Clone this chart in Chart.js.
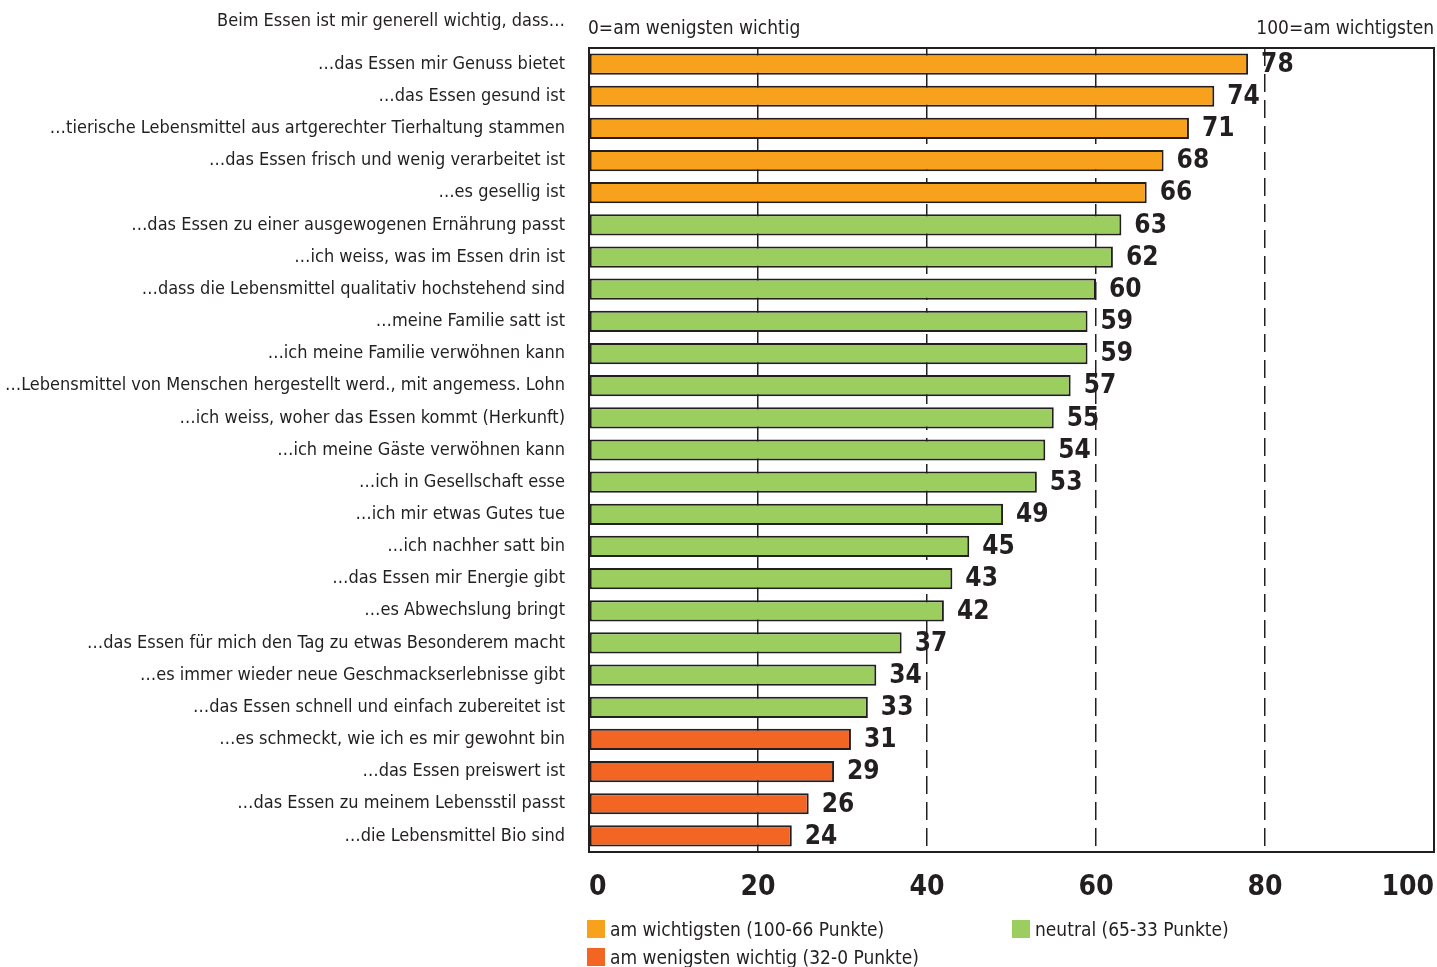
<!DOCTYPE html>
<html lang="de">
<head>
<meta charset="utf-8">
<title>Beim Essen ist mir generell wichtig</title>
<script src="https://cdn.jsdelivr.net/npm/chart.js@4"></script>
<style>
  html, body { margin: 0; padding: 0; background: #fff; }
  body { font-family: 'Liberation Sans Narrow', 'Arial Narrow', 'DejaVu Sans Condensed', sans-serif; color: #231f20; }
  .wrap { position: relative; width: 1437px; height: 967px; overflow: hidden; }
  canvas { position: absolute; left: 0; top: 0; }
  .txt { position: absolute; white-space: nowrap; line-height: 1; }
  .legend-item { position: absolute; display: flex; align-items: center; font-size: 19px; white-space: nowrap; }
  .legend-item span.sw { display: inline-block; width: 18px; height: 18px; margin-right: 5px; }
</style>
</head>
<body>
<div class="wrap">
  <canvas id="barChart" width="1437" height="967"></canvas>
  <div class="txt" id="question" style="right:872px; top:11px; font-size:18px;">Beim Essen ist mir generell wichtig, dass…</div>
  <div class="txt" style="left:588px; top:18px; font-size:19px;">0=am wenigsten wichtig</div>
  <div class="txt" style="right:3px; top:18px; font-size:19px;">100=am wichtigsten</div>
  <div id="legend"></div>
</div>
<script>
const categories = [
  '…das Essen mir Genuss bietet',
  '…das Essen gesund ist',
  '…tierische Lebensmittel aus artgerechter Tierhaltung stammen',
  '…das Essen frisch und wenig verarbeitet ist',
  '…es gesellig ist',
  '…das Essen zu einer ausgewogenen Ernährung passt',
  '…ich weiss, was im Essen drin ist',
  '…dass die Lebensmittel qualitativ hochstehend sind',
  '…meine Familie satt ist',
  '…ich meine Familie verwöhnen kann',
  '…Lebensmittel von Menschen hergestellt werd., mit angemess. Lohn',
  '…ich weiss, woher das Essen kommt (Herkunft)',
  '…ich meine Gäste verwöhnen kann',
  '…ich in Gesellschaft esse',
  '…ich mir etwas Gutes tue',
  '…ich nachher satt bin',
  '…das Essen mir Energie gibt',
  '…es Abwechslung bringt',
  '…das Essen für mich den Tag zu etwas Besonderem macht',
  '…es immer wieder neue Geschmackserlebnisse gibt',
  '…das Essen schnell und einfach zubereitet ist',
  '…es schmeckt, wie ich es mir gewohnt bin',
  '…das Essen preiswert ist',
  '…das Essen zu meinem Lebensstil passt',
  '…die Lebensmittel Bio sind'
];
const scores = [78, 74, 71, 68, 66, 63, 62, 60, 59, 59, 57, 55, 54, 53, 49, 45, 43, 42, 37, 34, 33, 31, 29, 26, 24];
const xTicks = [0, 20, 40, 60, 80, 100];
const groupLabels = ['am wichtigsten (100-66 Punkte)', 'neutral (65-33 Punkte)', 'am wenigsten wichtig (32-0 Punkte)'];
const groupMin = [66, 33, 0];
const groupColors = ['#f7a11c', '#9bcd5f', '#f26522'];

const ink = '#231f20';
const fontFamily = "'Liberation Sans Narrow', 'Arial Narrow', 'DejaVu Sans Condensed', sans-serif";

function groupOf(v) {
  for (let g = 0; g < groupMin.length; g++) {
    if (v >= groupMin[g]) return g;
  }
  return groupMin.length - 1;
}

// legend (html, laid out like the original)
const legendPos = [[587, 919], [1012, 919], [587, 947]];
const legend = document.getElementById('legend');
groupLabels.forEach((label, g) => {
  const item = document.createElement('div');
  item.className = 'legend-item';
  item.style.left = legendPos[g][0] + 'px';
  item.style.top = (legendPos[g][1] - 1) + 'px';
  item.innerHTML = '<span class="sw" style="background:' + groupColors[g] + '"></span>' + label;
  legend.appendChild(item);
});

const valueLabels = {
  id: 'valueLabels',
  afterDatasetsDraw(chart) {
    const ctx = chart.ctx;
    const meta = chart.getDatasetMeta(0);
    ctx.save();
    ctx.font = 'bold 26px ' + fontFamily;
    ctx.fillStyle = ink;
    ctx.textAlign = 'left';
    ctx.textBaseline = 'middle';
    meta.data.forEach((bar, i) => {
      ctx.fillText(String(scores[i]), bar.x + 13, bar.y + 1);
    });
    ctx.restore();
  }
};

const frame = {
  id: 'frame',
  afterDraw(chart) {
    const a = chart.chartArea;
    const ctx = chart.ctx;
    ctx.save();
    ctx.strokeStyle = ink;
    ctx.lineWidth = 2;
    ctx.strokeRect(a.left, a.top, a.right - a.left, a.bottom - a.top);
    ctx.restore();
  }
};

new Chart(document.getElementById('barChart').getContext('2d'), {
  type: 'bar',
  data: {
    labels: categories,
    datasets: [{
      data: scores,
      backgroundColor: scores.map(v => groupColors[groupOf(v)]),
      borderColor: ink,
      borderWidth: 2,
      borderSkipped: false,
      barPercentage: 0.66,
      categoryPercentage: 1
    }]
  },
  options: {
    indexAxis: 'y',
    responsive: false,
    animation: false,
    devicePixelRatio: 1,
    layout: { padding: { top: 48, right: 3, bottom: 67, left: 0 } },
    plugins: {
      legend: { display: false },
      tooltip: { enabled: false }
    },
    scales: {
      x: {
        min: 0,
        max: 100,
        afterBuildTicks: s => { s.ticks = xTicks.map(v => ({ value: v })); },
        afterFit: s => { s.height = 48; s.paddingLeft = 0; s.paddingRight = 0; },
        grid: { color: ink, lineWidth: 1.5, drawTicks: false },
        border: {
          display: false,
          dash: c => (c.tick && c.tick.value >= 40 && c.tick.value <= 80) ? [18, 8] : []
        },
        ticks: {
          align: 'inner',
          padding: 19,
          color: ink,
          font: { family: fontFamily, size: 28, weight: 'bold' }
        }
      },
      y: {
        afterFit: s => { s.width = 589; s.paddingTop = 0; s.paddingBottom = 0; },
        grid: { display: false, drawTicks: false },
        border: { display: false },
        ticks: {
          padding: 24,
          color: ink,
          autoSkip: false,
          font: { family: fontFamily, size: 18 }
        }
      }
    }
  },
  plugins: [valueLabels, frame]
});
</script>
</body>
</html>
